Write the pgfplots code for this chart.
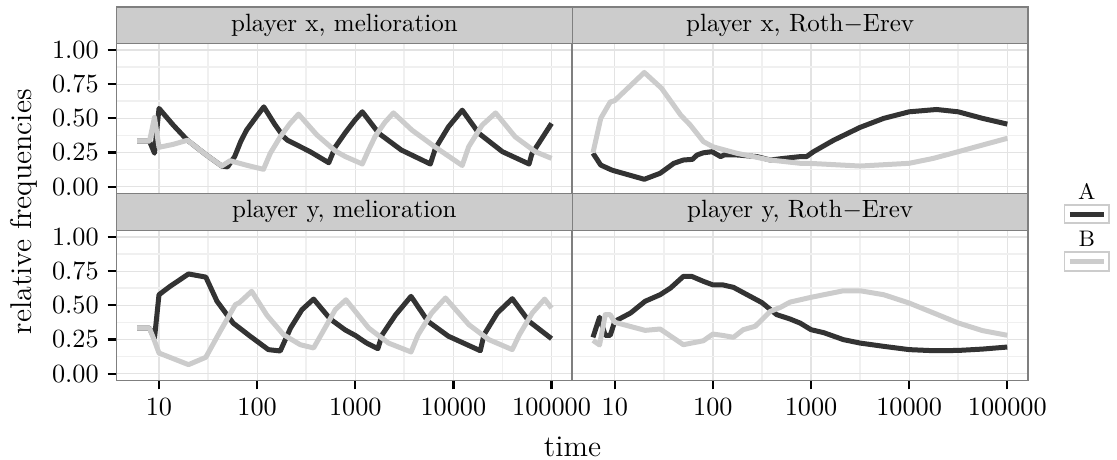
\documentclass[border=0pt]{standalone}
\usepackage{pgfplots}
\pgfplotsset{compat=1.18}
\definecolor{lineA}{HTML}{333333}
\definecolor{lineB}{HTML}{CCCCCC}
\definecolor{stripfill}{HTML}{CCCCCC}
\definecolor{border}{HTML}{7F7F7F}
\definecolor{gmajor}{HTML}{E3E3E3}
\definecolor{gminor}{HTML}{F0F0F0}
\pgfplotsset{
    log basis x=10,
    scale only axis, width=182.3pt, height=60.1pt,
    xmin=3.69, xmax=162550, ymin=-0.05, ymax=1.05,
    xtick={10,100,1000,10000,100000},
    xticklabels={10,100,1000,10000,100000},
    minor xtick={31.623,316.23,3162.3,31623},
    ytick={0,0.25,0.5,0.75,1},
    yticklabels={0.00,0.25,0.50,0.75,1.00},
    minor ytick={0.125,0.375,0.625,0.875},
    grid=both,
    major grid style={draw=gmajor, line width=0.5pt},
    minor grid style={draw=gminor, line width=0.7pt},
    axis line style={draw=border, line width=0.7pt},
    tick align=outside,
    major tick length=3.6pt, minor tick length=0pt,
    xtick pos=left, ytick pos=left,
    tick style={black, line width=0.9pt},
    tick label style={font=\fontsize{10.5}{12}\selectfont, text=black},
  lA/.style={draw=lineA, line width=2pt, line join=round, no markers},
  lB/.style={draw=lineB, line width=2pt, line join=round, no markers},
  nox/.style={xticklabels={}, every x tick/.append style={draw=none}},
  noy/.style={yticklabels={}, every y tick/.append style={draw=none}},
}
\begin{document}
\begin{tikzpicture}
\useasboundingbox (0,0) rectangle (446.8pt,184pt);

% top-left: player x, melioration
\begin{semilogxaxis}[nox, at={(46.6pt,106.6pt)}, anchor=south west]
\addplot[lA] coordinates {(6,0.333)(7,0.333)(8,0.333)(9,0.245)(10,0.573)(14,0.45)(19.5,0.34)(30,0.235)(43.6,0.151)(50,0.145)(59,0.22)(68,0.33)(78,0.414)(98,0.511)(117,0.584)(150,0.46)(186,0.365)(204,0.34)(347,0.256)(537,0.175)(625,0.29)(800,0.40)(1000,0.49)(1180,0.548)(1740,0.39)(2950,0.268)(5820,0.166)(6550,0.28)(8900,0.438)(12300,0.56)(18200,0.39)(31600,0.256)(59000,0.166)(63000,0.24)(77600,0.34)(100000,0.463)};
\addplot[lB] coordinates {(6,0.333)(8,0.333)(9,0.507)(10,0.288)(14,0.31)(19.5,0.34)(30,0.235)(43.6,0.151)(53,0.19)(80,0.155)(116,0.127)(136,0.244)(172,0.365)(215,0.46)(264,0.531)(407,0.378)(630,0.26)(794,0.22)(1180,0.166)(1370,0.27)(1600,0.37)(2000,0.47)(2450,0.54)(3780,0.414)(6460,0.292)(12300,0.155)(14300,0.292)(19600,0.45)(26900,0.54)(42600,0.365)(68400,0.256)(100000,0.207)};
\end{semilogxaxis}

% top-right: player x, Roth-Erev
\begin{semilogxaxis}[nox, noy, at={(228.9pt,106.6pt)}, anchor=south west]
\addplot[lA] coordinates {(6,0.245)(7.2,0.158)(9.3,0.122)(10,0.115)(20,0.054)(29,0.098)(40,0.171)(50,0.195)(62,0.2)(69,0.232)(80,0.248)(98,0.256)(120,0.22)(130,0.232)(176,0.232)(282,0.22)(385,0.195)(525,0.207)(776,0.22)(900,0.22)(1060,0.256)(1700,0.34)(3160,0.434)(5500,0.50)(10000,0.548)(19000,0.565)(31600,0.548)(56000,0.50)(100000,0.458)};
\addplot[lB] coordinates {(6,0.248)(7.2,0.50)(9,0.62)(10,0.63)(20,0.836)(30,0.72)(47,0.524)(59,0.45)(80,0.33)(100,0.292)(176,0.244)(385,0.195)(776,0.171)(1000,0.17)(3160,0.151)(10000,0.171)(17600,0.207)(31600,0.256)(56000,0.305)(100000,0.354)};
\end{semilogxaxis}

% bottom-left: player y, melioration
\begin{semilogxaxis}[at={(46.6pt,31.8pt)}, anchor=south west]
\addplot[lA] coordinates {(6,0.333)(7,0.333)(8,0.333)(9,0.26)(10,0.578)(13,0.64)(20,0.73)(30,0.707)(39,0.53)(57,0.37)(85,0.274)(130,0.176)(172,0.166)(219,0.334)(286,0.468)(376,0.546)(556,0.40)(790,0.32)(1000,0.28)(1300,0.225)(1700,0.183)(1880,0.285)(2570,0.43)(3700,0.566)(5500,0.383)(8900,0.274)(18800,0.168)(20500,0.285)(28000,0.444)(39800,0.549)(59000,0.383)(100000,0.256)};
\addplot[lB] coordinates {(6,0.333)(8,0.333)(9,0.24)(10,0.151)(20,0.066)(30,0.12)(42,0.31)(60,0.505)(66,0.52)(88,0.603)(126,0.427)(186,0.285)(275,0.212)(376,0.188)(513,0.358)(625,0.468)(803,0.541)(1370,0.334)(2180,0.224)(3700,0.159)(4370,0.285)(6000,0.444)(8300,0.554)(14400,0.358)(23000,0.249)(39800,0.176)(47000,0.285)(63600,0.444)(85000,0.546)(100000,0.48)};
\end{semilogxaxis}

% bottom-right: player y, Roth-Erev
\begin{semilogxaxis}[noy, at={(228.9pt,31.8pt)}, anchor=south west]
\addplot[lA] coordinates {(6,0.266)(7,0.413)(8,0.281)(9,0.281)(10,0.383)(14.5,0.444)(20.4,0.53)(29,0.578)(37,0.627)(50,0.712)(61,0.712)(80,0.676)(100,0.65)(126,0.65)(162,0.632)(240,0.566)(316,0.52)(447,0.432)(612,0.40)(776,0.37)(1000,0.322)(1350,0.30)(2140,0.249)(3160,0.224)(5500,0.2)(10000,0.176)(17800,0.168)(31600,0.17)(56000,0.18)(100000,0.195)};
\addplot[lB] coordinates {(6,0.244)(7,0.21)(8,0.432)(9,0.432)(10,0.376)(20.4,0.317)(29,0.327)(50,0.212)(80,0.241)(100,0.29)(126,0.28)(162,0.266)(204,0.322)(270,0.347)(385,0.456)(490,0.486)(612,0.524)(1000,0.559)(2140,0.607)(3160,0.607)(5500,0.578)(10000,0.517)(17800,0.444)(31600,0.371)(56000,0.315)(100000,0.281)};
\end{semilogxaxis}

% strips
\begin{scope}[font=\fontsize{10}{12}\selectfont]
\draw[fill=stripfill, draw=border, line width=0.5pt] (46.6pt,166.7pt) rectangle (228.9pt,181.2pt);
\draw[fill=stripfill, draw=border, line width=0.5pt] (228.9pt,166.7pt) rectangle (411.2pt,181.2pt);
\draw[fill=stripfill, draw=border, line width=0.5pt] (46.6pt,91.9pt) rectangle (228.9pt,106.6pt);
\draw[fill=stripfill, draw=border, line width=0.5pt] (228.9pt,91.9pt) rectangle (411.2pt,106.6pt);
\node at (137.75pt,173.95pt) {player x, melioration};
\node at (320.05pt,173.95pt) {player x, Roth$-$Erev};
\node at (137.75pt,99.25pt) {player y, melioration};
\node at (320.05pt,99.25pt) {player y, Roth$-$Erev};
\end{scope}

% axis titles
\node[font=\fontsize{12}{14}\selectfont, anchor=base] at (229pt,1.3pt) {time};
\node[font=\fontsize{12}{14}\selectfont, anchor=base, rotate=90] at (12.6pt,99.3pt) {relative frequencies};

% legend
\node[font=\fontsize{9}{11}\selectfont, anchor=base] at (434.7pt,104pt) {A};
\draw[fill=white, draw=lineB, line width=0.7pt] (425.8pt,94.7pt) rectangle (443.6pt,102pt);
\draw[draw=lineA, line width=2pt] (427.9pt,98.35pt) -- (441.6pt,98.35pt);
\node[font=\fontsize{9}{11}\selectfont, anchor=base] at (434.7pt,85.3pt) {B};
\draw[fill=white, draw=lineB, line width=0.7pt] (425.8pt,75.6pt) rectangle (443.6pt,83.2pt);
\draw[draw=lineB, line width=2pt] (427.9pt,79.4pt) -- (441.6pt,79.4pt);
\end{tikzpicture}
\end{document}
